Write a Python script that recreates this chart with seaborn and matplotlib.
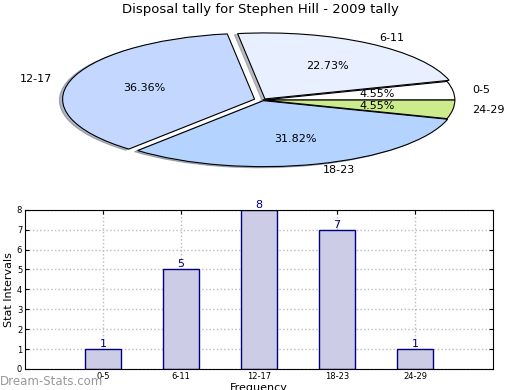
import matplotlib
matplotlib.use("Agg")
import matplotlib.pyplot as plt
import seaborn as sns
import pandas as pd

# data
intervals = ["0-5", "6-11", "12-17", "18-23", "24-29"]
counts = [1, 5, 8, 7, 1]
pie_colors = ["#ffffff", "#e8f0ff", "#c4d8ff", "#b4d4ff", "#cceb8c"]
explode = [0, 0.02, 0.045, 0.01, 0]

sns.set_style("white")
plt.rcParams['font.family'] = ['DejaVu Sans']
plt.rcParams['text.color'] = 'black'
plt.rcParams['axes.labelcolor'] = 'black'
plt.rcParams['xtick.color'] = 'black'
plt.rcParams['ytick.color'] = 'black'

fig = plt.figure(figsize=(5.2, 3.9), dpi=100)

# pie (flattened)
ax_pie = fig.add_axes([0.044, 0.532, 0.923, 0.423])
wedges, texts, autotexts = ax_pie.pie(
    counts, labels=intervals, colors=pie_colors, explode=explode,
    autopct="%.2f%%", startangle=0,
    shadow={"ox": -0.012, "oy": -0.012, "shade": 0.5},
    wedgeprops=dict(edgecolor="black", linewidth=0.8),
    textprops=dict(fontsize=8, color="black"))
ax_pie.set_aspect("auto")
ax_pie.set_xlim(-1.25, 1.25)
ax_pie.set_ylim(-1.25, 1.25)
fig.text(0.5, 0.975, "Disposal tally for Stephen Hill - 2009 tally",
         ha="center", va="center", fontsize=9.5)

# bars
df = pd.DataFrame({"interval": intervals, "count": counts})
ax = fig.add_axes([0.048, 0.054, 0.9, 0.408])
sns.barplot(data=df, x="interval", y="count", ax=ax, width=0.46,
            color="#ccccE6", edgecolor="#000080", linewidth=1,
            saturation=1, zorder=2)
for i, v in enumerate(counts):
    ax.text(i, v, str(v), ha="center", va="bottom", color="#000080", fontsize=8)
ax.set_xlim(-1, 5)
ax.set_ylim(0, 8)
ax.set_yticks(range(0, 9))
ax.grid(True, linestyle=":", color="#bbbbbb", linewidth=1, zorder=0)
ax.set_axisbelow(True)
ax.tick_params(axis="both", labelsize=6, direction="in", length=3,
               top=True, right=True, bottom=True, left=True, pad=2)
for s in ax.spines.values():
    s.set_color("black")
    s.set_linewidth(0.8)
ax.set_ylabel("Stat Intervals", fontsize=8, labelpad=2)
ax.set_xlabel("Frequency", fontsize=8, labelpad=2)
fig.text(0.0, 0.022, "Dream-Stats.com", color="#999999", fontsize=8.5,
         ha="left", va="center")

fig.savefig("out.png", dpi=100)
